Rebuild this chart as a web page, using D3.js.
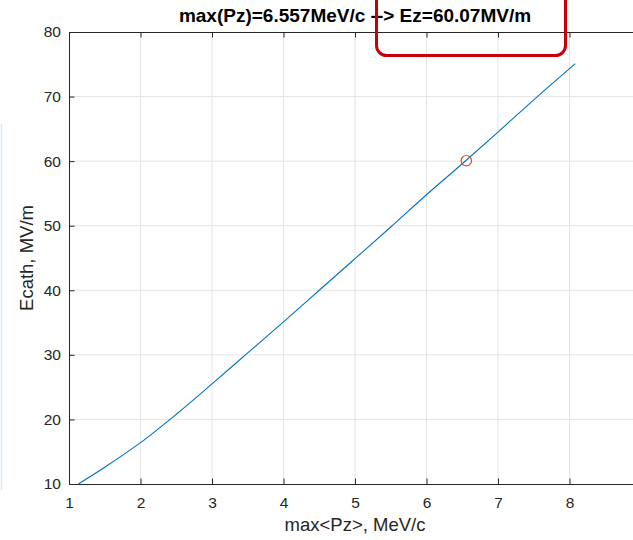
<!DOCTYPE html>
<html>
<head>
<meta charset="utf-8">
<script src="https://cdn.jsdelivr.net/npm/d3@7"></script>
<style>
  body { margin: 0; background: #fff; }
  svg text { font-family: "Liberation Sans", Arial, Helvetica, sans-serif; fill: #262626; }
</style>
</head>
<body>
<svg id="chart" width="633" height="540"></svg>
<script>
"use strict";

// curve
const pz = [1.13, 1.5, 2, 2.5, 3, 3.5, 4, 4.5, 5, 5.5, 6, 6.5, 7, 7.5, 8.08];
const ecath = [10, 12.6, 16.4, 20.8, 25.5, 30.3, 35.1, 40.0, 44.9, 49.8, 54.8, 59.6, 64.5, 69.5, 75.1];
// chosen point
const pick = [6.557, 60.07];
const xTicks = [1, 2, 3, 4, 5, 6, 7, 8];
const yTicks = [10, 20, 30, 40, 50, 60, 70, 80];
const title = "max(Pz)=6.557MeV/c --> Ez=60.07MV/m";

const svg = d3.select("#chart");
const axL = 69, axR = 641, axT = 32, axB = 484;

const x = d3.scaleLinear().domain([1, 9]).range([axL, axR]);
const y = d3.scaleLinear().domain([10, 80]).range([axB, axT]);

// faint line at the very left edge
svg.append("line")
  .attr("x1", 1.5).attr("x2", 1.5).attr("y1", 124).attr("y2", 490)
  .attr("stroke", "#d9e8f5").attr("stroke-width", 1.5);

// grid
const grid = svg.append("g").attr("stroke", "#e5e5e5").attr("stroke-width", 1);
grid.selectAll(".gx").data(xTicks.slice(1)).enter().append("line")
  .attr("x1", d => x(d)).attr("x2", d => x(d))
  .attr("y1", axT).attr("y2", axB);
grid.selectAll(".gy").data(yTicks.slice(1, -1)).enter().append("line")
  .attr("x1", axL).attr("x2", axR)
  .attr("y1", d => y(d)).attr("y2", d => y(d));

// axes, ticks inside like matlab
const tk = 5.5;
const xAxis = svg.append("g").attr("transform", `translate(0,${axB})`)
  .call(d3.axisBottom(x).tickValues(xTicks).tickSizeInner(-tk).tickSizeOuter(0).tickPadding(13));
const xTop = svg.append("g").attr("transform", `translate(0,${axT})`)
  .call(d3.axisTop(x).tickValues(xTicks).tickSizeInner(-tk).tickSizeOuter(0).tickFormat(""));
const yAxis = svg.append("g").attr("transform", `translate(${axL},0)`)
  .call(d3.axisLeft(y).tickValues(yTicks).tickSizeInner(-tk).tickSizeOuter(0).tickPadding(8));

[xAxis, xTop, yAxis].forEach(g => {
  g.select(".domain").attr("stroke", "#262626");
  g.selectAll(".tick line").attr("stroke", "#262626");
  g.selectAll("text").attr("font-size", 15.5).attr("fill", "#262626")
    .style("font-family", '"Liberation Sans", Arial, sans-serif');
});
xAxis.selectAll("text").attr("dy", "0.71em");

// curve
const line = d3.line().x((d, i) => x(pz[i])).y(d => y(d)).curve(d3.curveMonotoneX);
svg.append("path")
  .datum(ecath)
  .attr("d", line)
  .attr("fill", "none")
  .attr("stroke", "#0072BD")
  .attr("stroke-width", 1.1);

// marker
svg.append("circle")
  .attr("cx", x(pick[0])).attr("cy", y(pick[1])).attr("r", 5.2)
  .attr("fill", "none").attr("stroke", "#D95319").attr("stroke-width", 1.2);

// labels
svg.append("text")
  .attr("x", (axL + axR) / 2).attr("y", 531)
  .attr("text-anchor", "middle").attr("font-size", 18.5)
  .text("max<Pz>, MeV/c");

svg.append("text")
  .attr("transform", `translate(33,${(axT + axB) / 2}) rotate(-90)`)
  .attr("text-anchor", "middle").attr("font-size", 18.5)
  .text("Ecath, MV/m");

svg.append("text")
  .attr("x", (axL + axR) / 2).attr("y", 22)
  .attr("text-anchor", "middle").attr("font-size", 19)
  .attr("font-weight", "bold")
  .style("fill", "#000")
  .text(title);

// red highlight box
svg.append("rect")
  .attr("x", 376.5).attr("y", -20).attr("width", 189).attr("height", 75.5)
  .attr("rx", 10).attr("ry", 10)
  .attr("fill", "none").attr("stroke", "#c8000a").attr("stroke-width", 3);
</script>
</body>
</html>
